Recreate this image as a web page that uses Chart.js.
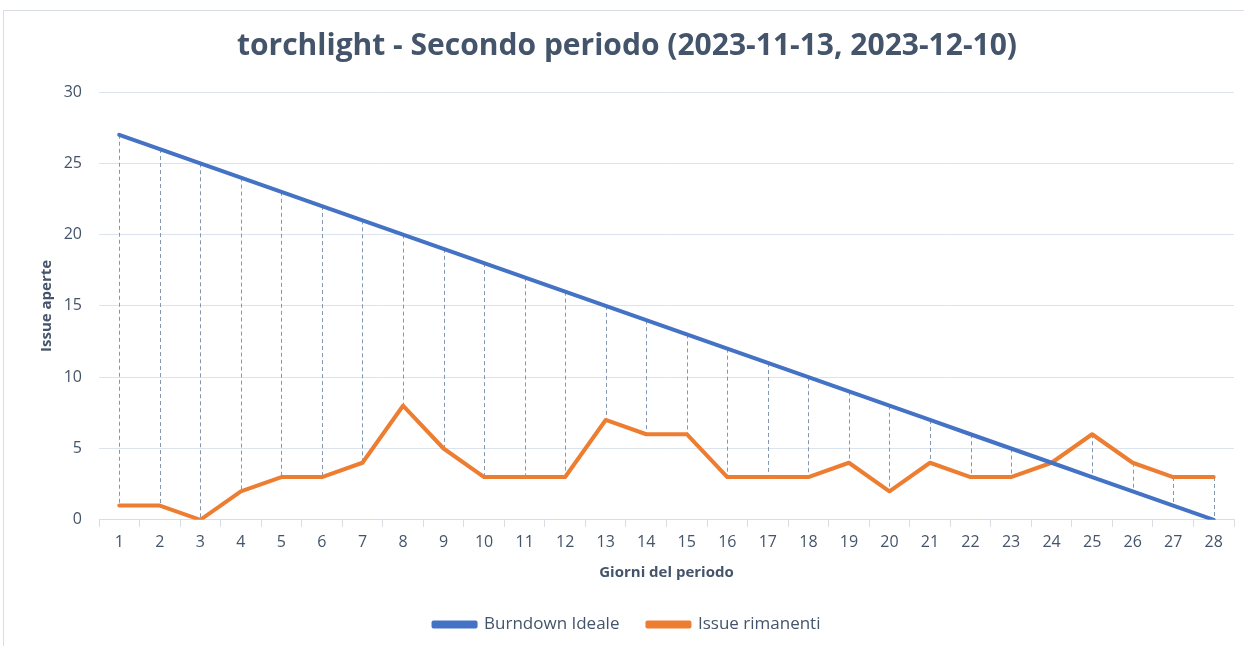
<!DOCTYPE html>
<html><head><meta charset="utf-8">
<script src="https://cdn.jsdelivr.net/npm/chart.js@4"></script>
<style>
html,body{margin:0;padding:0;background:#fff;}
#wrap{position:absolute;left:0;top:0;width:1244px;height:646px;}
#frame{position:absolute;left:3px;top:10px;width:1250px;height:640px;border:1px solid #d9dde5;box-sizing:border-box;}
</style></head>
<body>
<div id="frame"></div>
<div id="wrap"><canvas id="c"></canvas></div>
<script>
const days = ['1','2','3','4','5','6','7','8','9','10','11','12','13','14','15','16','17','18','19','20','21','22','23','24','25','26','27','28'];
const idealBurndown = [27,26,25,24,23,22,21,20,19,18,17,16,15,14,13,12,11,10,9,8,7,6,5,4,3,2,1,0];
const remainingIssues = [1,1,0,2,3,3,4,8,5,3,3,3,7,6,6,3,3,3,4,2,4,3,3,4,6,4,3,3];
const yTicks = [0,5,10,15,20,25,30];

const textColor = '#44546a';
const FONT = 'Open Sans';

const hiLoPlugin = {
  id: 'hiLo',
  beforeDatasetsDraw(chart) {
    const ctx = chart.ctx;
    const m0 = chart.getDatasetMeta(0);
    const ys = chart.scales.y;
    ctx.save();
    ctx.strokeStyle = '#8497b0';
    ctx.lineWidth = 1;
    ctx.setLineDash([4,3]);
    for (let i = 0; i < days.length; i++) {
      const a = idealBurndown[i], b = remainingIssues[i];
      if (a === b) continue;
      const x = Math.round(m0.data[i].x) + 0.5;
      ctx.beginPath();
      ctx.moveTo(x, ys.getPixelForValue(Math.max(a,b)));
      ctx.lineTo(x, ys.getPixelForValue(Math.min(a,b)));
      ctx.stroke();
    }
    ctx.restore();
  }
};

new Chart(document.getElementById('c'), {
  type: 'line',
  data: {
    labels: days,
    datasets: [
      {label:'Burndown Ideale', data: idealBurndown, borderColor:'#4472c4', backgroundColor:'#4472c4', borderWidth:4, pointRadius:0, tension:0, borderCapStyle:'round', borderJoinStyle:'round'},
      {label:'Issue rimanenti', data: remainingIssues, borderColor:'#ed7d31', backgroundColor:'#ed7d31', borderWidth:4, pointRadius:0, tension:0, borderCapStyle:'round', borderJoinStyle:'round'}
    ]
  },
  options: {
    responsive: true,
    maintainAspectRatio: false,
    animation: false,
    layout: {padding: {left: 20, right: 10, top: 12, bottom: 3}},
    plugins: {
      title: {display:true, text:'torchlight - Secondo periodo (2023-11-13, 2023-12-10)', color:textColor,
        font:{family:FONT, size:30, weight:'bold'}, padding:{top:16, bottom:28}},
      legend: {position:'bottom', labels:{color:textColor, font:{family:FONT, size:17}, boxWidth:42, boxHeight:4, padding:28}},
      tooltip: {enabled:false}
    },
    scales: {
      x: {
        offset: true,
        grid: {offset:true, drawOnChartArea:false, drawTicks:true, tickLength:7, color:'#d9dde5'},
        border: {display:true, color:'#d9dde5'},
        ticks: {color:textColor, font:{family:FONT, size:16}, maxRotation:0, autoSkip:false, padding:6},
        title: {display:true, text:'Giorni del periodo', color:textColor, font:{family:FONT, size:15, weight:'bold'}, padding:{top:6, bottom:6}}
      },
      y: {
        min: 0, max: 30,
        afterBuildTicks(s){ s.ticks = yTicks.map(v=>({value:v})); },
        afterFit(s){ s.width = 79; },
        grid: {color:'#dde3ec', drawTicks:false},
        border: {display:false},
        ticks: {color:textColor, font:{family:FONT, size:16}, padding:17},
        title: {display:true, text:'Issue aperte', color:textColor, font:{family:FONT, size:15, weight:'bold'}, padding:{top:18, bottom:0}}
      }
    }
  },
  plugins: [hiLoPlugin]
});
</script>
</body></html>
